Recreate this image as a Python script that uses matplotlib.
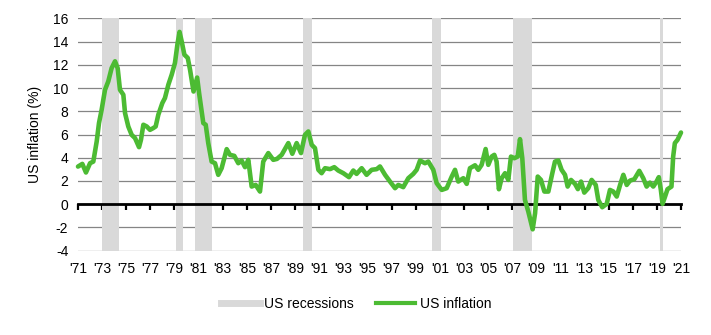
import matplotlib
matplotlib.use("Agg")
import matplotlib.pyplot as plt
from matplotlib.lines import Line2D

plt.rcParams['font.family'] = ['Liberation Sans', 'DejaVu Sans']

# Chart x positions (as displayed, year units) and inflation values (%)
years = [1971.00, 1971.36, 1971.66, 1972.00, 1972.27, 1972.55, 1972.74, 1972.96, 1973.24, 1973.51,
         1973.79, 1974.07, 1974.29, 1974.48, 1974.76, 1974.90, 1975.17, 1975.45, 1975.73, 1976.06,
         1976.22, 1976.42, 1976.70, 1976.97, 1977.24, 1977.44, 1977.66, 1977.99, 1978.21, 1978.49,
         1978.77, 1979.04, 1979.25, 1979.42, 1979.60, 1979.82, 1980.10, 1980.29, 1980.58, 1980.88,
         1981.05, 1981.39, 1981.59, 1981.80, 1982.08, 1982.36, 1982.63, 1982.91, 1983.33, 1983.60,
         1983.96, 1984.29, 1984.57, 1984.85, 1985.12, 1985.40, 1985.73, 1986.09, 1986.36, 1986.78,
         1987.19, 1987.50, 1987.89, 1988.44, 1988.77, 1989.13, 1989.49, 1989.82, 1990.10, 1990.38,
         1990.65, 1990.93, 1991.20, 1991.48, 1991.90, 1992.25, 1992.58, 1993.00, 1993.47, 1993.83,
         1994.10, 1994.52, 1994.93, 1995.35, 1995.77, 1996.04, 1996.46, 1996.87, 1997.29, 1997.56,
         1997.97, 1998.39, 1998.80, 1999.08, 1999.36, 1999.77, 2000.05, 2000.46, 2000.74, 2001.16,
         2001.57, 2001.99, 2002.26, 2002.53, 2002.95, 2003.23, 2003.50, 2003.92, 2004.19, 2004.47,
         2004.80, 2005.02, 2005.30, 2005.52, 2005.71, 2005.90, 2006.13, 2006.41, 2006.68, 2006.90,
         2007.18, 2007.46, 2007.65, 2007.84, 2008.06, 2008.34, 2008.70, 2008.90, 2009.12, 2009.39,
         2009.67, 2010.00, 2010.33, 2010.55, 2010.83, 2011.10, 2011.38, 2011.60, 2011.88, 2012.21,
         2012.45, 2012.71, 2012.98, 2013.31, 2013.59, 2013.93, 2014.14, 2014.47, 2014.84, 2015.11,
         2015.39, 2015.67, 2015.95, 2016.22, 2016.50, 2016.77, 2017.13, 2017.54, 2017.87, 2018.15,
         2018.42, 2018.70, 2018.97, 2019.16, 2019.33, 2019.47, 2019.66, 2019.88, 2020.21, 2020.35,
         2020.49, 2020.71, 2021.00]
inflation = [3.24, 3.47, 2.73, 3.53, 3.67, 5.40, 6.98, 8.13, 9.85, 10.57,
             11.72, 12.30, 11.70, 9.85, 9.42, 7.84, 6.69, 5.97, 5.69, 4.91,
             5.54, 6.84, 6.69, 6.40, 6.55, 6.69, 7.70, 8.70, 9.14, 10.28,
             11.15, 12.16, 13.80, 14.83, 14.00, 12.87, 12.59, 11.58, 9.70, 10.90,
             9.50, 6.98, 6.84, 5.26, 3.67, 3.53, 2.53, 3.10, 4.74, 4.25,
             4.16, 3.53, 3.76, 3.19, 3.82, 1.52, 1.66, 1.09, 3.67, 4.40,
             3.82, 3.90, 4.25, 5.26, 4.34, 5.26, 4.40, 5.97, 6.26, 5.11,
             4.83, 2.96, 2.67, 3.10, 3.02, 3.19, 2.90, 2.67, 2.33, 2.90,
             2.61, 3.10, 2.53, 2.96, 3.02, 3.25, 2.53, 1.95, 1.38, 1.66,
             1.47, 2.24, 2.61, 2.96, 3.76, 3.53, 3.67, 2.96, 1.81, 1.23,
             1.38, 2.38, 2.96, 1.95, 2.24, 1.75, 3.10, 3.35, 2.96, 3.39,
             4.75, 3.39, 4.10, 4.25, 3.67, 1.29, 2.24, 2.67, 2.09, 4.10,
             3.96, 4.10, 5.60, 3.96, 0.37, -0.64, -2.16, -0.78, 2.38, 2.09,
             1.09, 1.09, 2.67, 3.67, 3.76, 2.96, 2.53, 1.52, 2.09, 1.75,
             1.30, 1.95, 1.00, 1.38, 2.09, 1.66, 0.37, -0.26, 0.03, 1.23,
             1.09, 0.66, 1.66, 2.53, 1.66, 2.03, 2.15, 2.87, 2.24, 1.52,
             1.86, 1.52, 1.95, 2.33, 1.23, 0.03, 0.60, 1.29, 1.52, 4.10,
             5.26, 5.54, 6.17]

# Recession periods (as displayed on the chart's x scale)
rec_start = [1973.01, 1979.13, 1980.70, 1989.66, 2000.38, 2007.07, 2019.26]
rec_end = [1974.40, 1979.71, 1982.09, 1990.38, 2001.08, 2008.62, 2019.48]

xticks = list(range(1971, 2022, 2))
xticklabels = ["'%02d" % (y % 100) for y in xticks]
yticks = list(range(-4, 17, 2))

GREEN = '#4cbb33'
REC = '#d9d9d9'
FS = 10

fig = plt.figure(figsize=(7.11, 3.35), dpi=100)
ax = fig.add_axes([78/711, 1 - 250.7/335, (681-78)/711, (250.7-18.3)/335])

for s, e in zip(rec_start, rec_end):
    ax.axvspan(s, e, color=REC, lw=0, zorder=1)

ax.plot(years, inflation, color=GREEN, lw=3.3, zorder=3, clip_on=False,
        solid_joinstyle='round', solid_capstyle='round')

ax.set_xlim(1971, 2021)
ax.set_ylim(-4, 16)
ax.set_yticks(yticks)
ax.set_yticklabels([str(v) for v in yticks])
ax.set_xticks(xticks)
ax.set_xticklabels(xticklabels)

ax.set_axisbelow(True)
ax.yaxis.grid(True, color='#858585', lw=0.9)
ax.xaxis.grid(False)

for side in ['left', 'right', 'top']:
    ax.spines[side].set_visible(False)
ax.spines['bottom'].set_position(('data', 0))
ax.spines['bottom'].set_color('black')
ax.spines['bottom'].set_linewidth(2.0)
ax.spines['bottom'].set_zorder(2.5)

ax.tick_params(axis='y', length=0, pad=7, labelsize=FS)
ax.tick_params(axis='x', direction='out', length=4, width=1.6, color='black', pad=37.5, labelsize=FS)

ax.set_ylabel('US inflation (%)', fontsize=FS)
ax.yaxis.set_label_coords(-0.06, 0.5)

handles = [Line2D([0], [0], color=REC, lw=5),
           Line2D([0], [0], color=GREEN, lw=3)]
fig.legend(handles, ['US recessions', 'US inflation'], loc='center',
           bbox_to_anchor=(0.501, 0.0925), ncol=2, frameon=False, fontsize=FS,
           handlelength=2.8, handletextpad=0.3, columnspacing=1.6)

fig.savefig('out.png', dpi=100)
